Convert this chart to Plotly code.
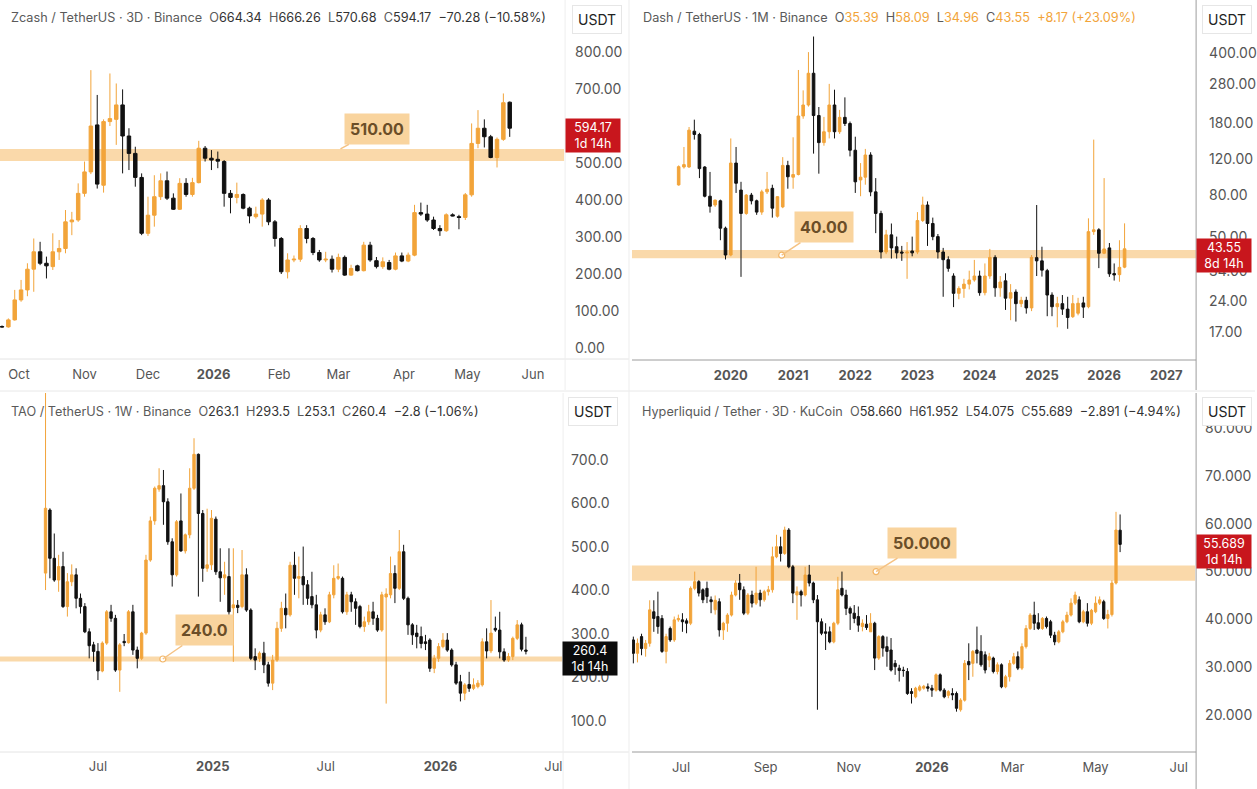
import math
import pandas as pd
import plotly.graph_objects as go

W, H = 1257, 789
UP = "#F2A43A"
DOWN = "#111111"
TICK = "#555555"
BAND = "#FAD9AA"
LABEL_BG = "#F9D49E"
LABEL_FG = "#6B4E28"
FONT = "Inter, Roboto, sans-serif"

# ---------------- Zcash / TetherUS 3D ----------------
zec_start = "2025-09-23"
zec_o = [58,57,76,130,157,213,260,229,220,260,269,341,346,418,476,603,440,612,618,657,
         573,526,461,310,359,409,452,405,375,445,415,447,540,513,510,504,418,407,415,378,
         355,362,400,341,296,206,238,240,323,296,258,238,240,213,245,197,222,209,278,236,
         220,231,213,249,235,251,366,362,346,323,317,360,355,353,414,553,594,571,515,564,664.34]
zec_h = [61,80,157,184,229,296,287,247,310,292,373,368,445,504,751,684,618,742,715,699,
         594,544,472,409,467,472,477,418,459,459,460,560,546,535,531,508,427,447,418,382,
         382,405,405,346,300,256,250,332,332,300,265,260,250,255,250,225,225,287,287,246,
         245,238,258,258,258,387,393,387,355,332,364,364,360,419,607,643,618,576,569,688,666.26]
zec_l = [55,55,74,125,140,152,224,188,211,238,256,305,341,409,470,431,420,600,549,472,
         481,436,305,303,328,400,400,373,373,409,409,445,504,481,486,382,364,391,375,337,
         350,328,332,274,200,188,232,233,283,251,233,232,204,205,195,195,207,207,233,215,
         214,210,210,232,232,248,357,341,319,303,314,356,321,346,409,540,542,513,488,560,570.68]
zec_c = [57,76,130,157,213,260,229,222,260,269,341,346,418,476,600,443,612,620,657,573,
         526,461,310,359,409,452,405,375,445,415,447,540,513,508,505,418,407,415,378,357,
         362,400,341,296,206,238,240,323,296,258,238,240,213,245,197,215,209,278,238,220,
         233,213,249,235,251,366,362,346,323,317,360,357,353,414,553,594,571,515,564,663,594.17]

# ---------------- Dash / TetherUS 1M ----------------
dash_start = "2019-03-01"
dash_o = [89.8,110,110,165,159,110,79,71.5,75,55,40.6,115,84.7,65,80,75,66,83,86.4,63,
          70,112,98,101,196,222,318,197,145,164,222,164,193,180,133,95,98,126,83,65,
          42,51,44.6,42,41.5,42.5,42,60,71.5,58,50,42,38.5,32,26.3,27.8,29.2,30.6,32,26.5,
          32,39.5,28,30.3,24.9,26.7,23.4,24.3,22.3,39.4,38,34,25.8,22.6,23.4,22,20.2,21,23.6,22.6,
          52.9,54,41.4,44,32.9,32.5,35.39]
dash_h = [112,138,173,188,162,111,104,76,76,56,152,138,93,81,82,76,85,104,90,79,
          123,118,154,330,262,404,482,217,194,282,264,210,242,184,155,115,135,130,97,67,
          54,58,50,45,47,50,66,78.6,74.5,62,51.5,44,40,33,28.5,31,34,38.4,34,36.9,
          43.5,40.5,32,33,29.2,27.5,25.3,25.3,40.6,71.5,44.6,34.7,26.6,25.3,25.8,25.3,25.8,25,25.3,61.5,
          150,55,97,46.5,36.9,48,58.09]
dash_l = [89,108,109,150,97,78,65.6,70,48,38.6,40,82,31.7,64,72,64,64,81,62,62,
          69,86,86,100,190,218,128,102,140,152,152,160,175,124,82,79,90,79,52,39,
          41,39,39,38,31,40,41,59,45,48,39,25.3,33.6,22.5,24.6,25,27.5,30,25.6,25.7,
          31,25.3,25.3,21.8,19.4,19.1,22.5,20.9,21.5,32,31.8,20.3,20.3,17.9,20.6,17.6,19.9,20.5,19.9,22.2,
          51,35,41,31.7,30.4,30,34.96]
dash_c = [110.4,113,167,159,108,79,70.5,75.6,55,40.6,115,91.5,65,80,75,66,83,85.5,69,78.6,
          112,98.5,101,196,222,318,197,145,164,222,164,193,180,133,93,98,126,83,65,42,
          51,44,41.6,41.5,42,41.6,60,71.5,58,50,42,38.5,34.9,26.3,27.8,29.2,30.6,32,26.5,32,
          39.5,28,29.9,24.9,26.5,23.4,24.3,22.3,39.5,38,34.2,25.8,22.6,23.4,22,20,23.4,23.5,22.5,52.9,
          54,41.4,43.5,32.8,32.4,35.3,43.55]

# ---------------- TAO / TetherUS 1W ----------------
tao_start = "2024-04-08"
tao_o = [440,585,474,424,455,363,420,436,382,363, 305,275,260,215,279,351,336,217,283,280,
         351,263,244,302,470,560,633,641,604,512, 436,560,491,528,635,713,577,451,459,564,
         443,429,432,360,366,363,436,355,248,244, 256,229,187,240,313,359,344,458,428,432,
         413,386,367,309,344,328,390,428,428,351, 390,374,363,317,328,351,336,309,385,390,
         439,405,489,382,321,302,294,282,286,221, 244,271,286,263,229,190,164,184,175,179,
         183,282,261,313,309,259,240,248,290,321, 263.1]
tao_h = [1000,589,531,482,489,440,460,451,393,371, 313,282,279,283,355,367,344,279,300,355,
         367,271,305,482,570,639,681,677,612,520, 562,623,531,681,750,715,585,588,585,570,
         497,466,497,497,378,493,451,359,267,260, 282,236,252,328,374,393,466,489,478,501,
         424,443,390,351,359,397,458,462,432,397, 397,382,367,340,367,374,344,397,405,478,
         458,539,505,386,325,321,317,298,290,252, 279,302,302,267,236,206,187,213,198,194,
         290,313,378,340,351,267,256,294,332,326, 293.5]
tao_l = [401,428,420,397,360,340,410,359,347,302, 244,236,194,212,275,328,213,167,272,278,
         252,221,240,298,466,551,627,551,505,409, 432,489,485,520,631,386,420,443,447,436,
         374,390,344,236,348,359,351,240,217,236, 210,179,171,236,305,313,340,390,382,367,
         367,359,290,304,321,325,382,424,347,344, 351,321,313,305,321,321,305,305,140,382,
         371,401,378,298,275,267,267,263,213,210, 236,267,259,225,183,145,148,167,171,175,
         179,244,256,305,244,236,236,240,286,260, 253.1]
tao_c = [589,474,424,455,363,420,436,382,363,305, 273,260,215,279,351,336,217,275,280,351,
         263,244,302,470,560,635,641,604,512,436, 558,491,528,635,713,577,451,459,566,443,
         429,436,351,367,361,436,355,244,240,256, 229,187,240,313,359,344,458,428,432,413,
         382,367,309,344,328,390,428,432,351,390, 374,359,317,328,351,336,309,390,392,439,
         405,489,382,321,298,294,278,278,221,244, 271,286,263,229,187,164,183,175,183,187,
         282,261,302,309,259,240,248,290,321,265, 260.4]

# ---------------- Hyperliquid / Tether 3D ----------------
hl_start = "2025-05-27"
hl_o = [35.7,32.9,36.4,33.9,35.0,41.6,40.6,40.2,33.3,38.1, 35.7,39.9,39.9,39.7,39.2,46.5,47.9,46.2,46.5,44.1,
        42.0,43.7,37.8,39.2,40.9,45.1,47.6,46.2,41.3,45.1, 43.4,45.5,44.1,45.8,46.2,53.1,55.2,53.8,58.7,51.0,
        45.1,45.8,45.1,49.3,47.6,44.1,39.5,37.4,37.4,35.3, 39.2,46.5,45.1,42.3,41.3,40.6,38.5,39.0,37.4,39.2,
        31.9,36.4,34.3,33.6,30.8,29.8,29.4,29.1,24.9,23.8, 25.2,25.6,25.9,25.6,25.2,28.4,25.2,24.1,24.5,24.5,
        21.1,23.1,31.2,30.8,33.6,33.3,32.6,31.5,31.9,29.1, 30.5,25.9,28.0,30.8,32.2,29.8,34.3,38.1,40.9,39.3,
        38.1,40.2,39.5,36.7,35.3,37.4,39.5,40.9,43.4,44.1, 39.5,41.6,39.2,41.6,43.4,43.7,40.2,41.0,47.6,58.66]
hl_h = [36.4,36.0,37.0,35.7,44.0,44.0,45.8,40.9,37.0,38.5, 40.6,41.0,41.3,40.2,46.9,50.0,48.2,46.5,47.9,44.8,
        45.0,44.4,39.5,41.3,45.8,48.2,49.5,46.9,45.5,46.0, 51.0,46.2,46.2,47.0,55.2,57.7,57.3,59.4,59.1,51.4,
        46.9,46.2,51.0,51.4,47.9,45.1,40.2,39.2,38.5,39.5, 48.9,50.0,46.2,42.7,43.0,42.7,40.0,40.9,41.3,39.5,
        36.7,36.7,36.4,36.1,31.5,30.5,30.1,29.8,25.6,25.9, 26.3,26.3,26.6,26.3,28.7,28.7,25.6,25.2,25.6,24.9,
        23.5,31.5,35.0,33.6,38.5,36.7,33.3,33.0,32.2,31.0, 30.8,28.4,31.5,33.0,33.3,35.0,38.8,41.3,43.7,41.3,
        40.5,40.6,39.9,37.4,37.8,39.9,41.6,44.4,45.8,44.8, 42.0,43.4,42.2,44.8,44.8,44.1,42.0,48.2,62.5,61.952]
hl_l = [30.8,31.0,32.5,32.2,34.3,37.4,37.0,33.0,30.8,35.3, 35.3,39.5,37.4,37.1,38.8,46.1,44.8,43.4,43.4,41.3,
        41.0,36.4,35.7,37.4,40.6,44.8,44.1,40.9,40.9,42.5, 43.0,42.7,43.7,45.0,45.6,52.8,52.1,53.5,50.7,43.4,
        39.9,42.7,44.8,46.9,43.4,21.1,36.7,33.6,35.0,35.0, 38.8,44.8,40.9,37.8,39.2,37.4,37.5,37.8,37.4,29.4,
        31.5,32.2,30.1,29.1,28.4,27.0,28.0,24.2,22.4,23.5, 24.9,25.3,24.9,23.8,24.9,24.9,23.5,23.5,23.1,20.7,
        20.7,22.8,27.3,28.0,30.8,30.1,28.7,30.0,28.7,28.5, 25.6,25.6,27.0,30.5,29.4,29.4,33.9,37.8,37.8,37.8,
        37.8,38.1,36.1,34.6,35.0,37.1,39.2,40.6,43.0,39.2, 39.2,38.5,38.8,41.3,43.0,39.9,38.1,40.6,47.3,54.075]
hl_c = [32.9,35.0,33.9,35.0,42.0,40.2,38.5,33.3,36.4,35.7, 39.9,40.2,39.5,39.2,46.5,47.9,45.5,44.1,44.8,43.7,
        44.0,37.8,39.2,40.9,45.1,47.6,46.2,41.3,45.1,43.4, 45.5,44.1,45.8,46.2,53.1,55.2,53.8,58.7,51.0,45.5,
        45.8,45.1,49.3,47.6,44.1,39.5,37.1,37.1,35.3,39.2, 46.2,45.1,42.3,41.3,40.2,38.8,39.2,38.3,39.2,31.9,
        36.4,34.0,33.3,29.4,30.1,29.3,29.3,24.5,24.5,25.6, 25.9,26.0,25.6,25.2,28.4,25.2,23.8,24.9,24.2,21.4,
        23.1,30.8,30.5,33.3,32.9,30.5,29.4,32.2,29.1,30.5, 25.9,28.0,30.8,32.2,29.8,34.3,38.1,40.9,39.2,38.1,
        40.2,38.5,36.7,35.3,37.4,39.5,40.9,43.4,45.1,39.5, 41.6,39.2,41.9,43.4,44.1,40.2,41.0,47.6,58.7,55.689]

# tick labels
zec_ticks = ["2025-10-01","2025-11-01","2025-12-01","2026-01-01","2026-02-01","2026-03-01","2026-04-01","2026-05-01","2026-06-01"]
zec_tick_text = ["Oct","Nov","Dec","<b>2026</b>","Feb","Mar","Apr","May","Jun"]
dash_ticks = ["2020-01-01","2021-01-01","2022-01-01","2023-01-01","2024-01-01","2025-01-01","2026-01-01","2027-01-01"]
dash_tick_text = ["<b>2020</b>","<b>2021</b>","<b>2022</b>","<b>2023</b>","<b>2024</b>","<b>2025</b>","<b>2026</b>","<b>2027</b>"]
tao_ticks = ["2024-07-01","2025-01-01","2025-07-01","2026-01-01","2026-07-01"]
tao_tick_text = ["Jul","<b>2025</b>","Jul","<b>2026</b>","Jul"]
hl_ticks = ["2025-07-01","2025-09-01","2025-11-01","2026-01-01","2026-03-01","2026-05-01","2026-07-01"]
hl_tick_text = ["Jul","Sep","Nov","<b>2026</b>","Mar","May","Jul"]

zec_yticks = [0,100,200,300,400,500,700,800]   # 600 sits under the last-price tag
dash_yticks = [17,24,34,50,80,120,180,280,400]
tao_yticks = [100,200,300,400,500,600,700]
hl_yticks = [20,30,40,50,60,70,80]

# ---------------- figure ----------------
fig = go.Figure()

def candles(start, freq, o, h, l, c, xa, ya):
    x = pd.date_range(start, periods=len(o), freq=freq)
    fig.add_trace(go.Candlestick(
        x=x, open=o, high=h, low=l, close=c, xaxis=xa, yaxis=ya,
        increasing=dict(line=dict(color=UP, width=1), fillcolor=UP),
        decreasing=dict(line=dict(color=DOWN, width=1), fillcolor=DOWN),
        whiskerwidth=0, hoverinfo="skip", showlegend=False))

candles(zec_start, "3D", zec_o, zec_h, zec_l, zec_c, "x", "y")
candles(dash_start, "MS", dash_o, dash_h, dash_l, dash_c, "x2", "y2")
candles(tao_start, "7D", tao_o, tao_h, tao_l, tao_c, "x3", "y3")
candles(hl_start, "3D", hl_o, hl_h, hl_l, hl_c, "x4", "y4")

def px(v):
    return v / W

def py(v):
    return 1 - v / H

def xaxis(dom, rng, tv, tt, anchor):
    return dict(domain=dom, range=rng, type="date", anchor=anchor, tickvals=tv, ticktext=tt,
                showgrid=False, zeroline=False, showline=False, ticks="",
                tickfont=dict(size=13, color=TICK, family=FONT), ticklabelstandoff=6,
                rangeslider=dict(visible=False), fixedrange=True)

def yaxis(dom, rng, tv, tt, anchor, typ="linear", standoff=8):
    return dict(domain=dom, range=rng, type=typ, anchor=anchor, side="right", tickvals=tv, ticktext=tt,
                showgrid=False, zeroline=False, showline=False, ticks="",
                tickfont=dict(size=14, color=TICK, family=FONT), ticklabelstandoff=standoff,
                fixedrange=True)

fig.update_layout(
    width=W, height=H, autosize=False,
    margin=dict(l=0, r=0, t=0, b=0, pad=0),
    paper_bgcolor="white", plot_bgcolor="white",
    font=dict(family=FONT),
    showlegend=False,
    boxgap=0.22,
    xaxis=xaxis([0, px(565)], ["2025-09-22T01:00", "2026-06-15T17:00"], zec_ticks, zec_tick_text, "y"),
    yaxis=yaxis([py(359), 1], [-29.7, 940.6], zec_yticks, [f"{v:.2f}" for v in zec_yticks], "x", standoff=10),
    xaxis2=xaxis([px(633), px(1198)], ["2018-05-31", "2027-06-25"], dash_ticks, dash_tick_text, "y2"),
    yaxis2=yaxis([py(360), 1], [1.09212, 2.86274], dash_yticks, [f"{v:.2f}" for v in dash_yticks], "x2", typ="log", standoff=12),
    xaxis3=xaxis([0, px(563)], ["2024-01-26", "2026-07-15"], tao_ticks, tao_tick_text, "y3"),
    yaxis3=yaxis([py(751), py(393)], [31.0, 854.0], tao_yticks, [f"{v:.1f}" for v in tao_yticks], "x3", standoff=8),
    xaxis4=xaxis([px(633), px(1197)], ["2025-05-26", "2026-07-13"], hl_ticks, hl_tick_text, "y4"),
    yaxis4=yaxis([py(752), py(393)], [12.26, 87.36], hl_yticks, [f"{v:.3f}" for v in hl_yticks], "x4", standoff=9),
)

shapes = []
# support / resistance bands (data values, also on the log axis)
for xr, yr, y0, y1 in [("x domain", "y", 505.5, 538.0),
                       ("x2 domain", "y2", 39.1, 43.0),
                       ("x3 domain", "y3", 236.5, 248.0),
                       ("x4 domain", "y4", 48.1, 51.25)]:
    shapes.append(dict(type="rect", xref=xr, yref=yr, x0=0, x1=1, y0=y0, y1=y1,
                       fillcolor=BAND, line=dict(width=0), layer="below"))

def pline(x0, y0, x1, y1, color):
    return dict(type="line", xref="paper", yref="paper", x0=px(x0), x1=px(x1), y0=py(y0), y1=py(y1),
                line=dict(color=color, width=1), layer="above")

LIGHT = "#E4E4E4"
DARK = "#9C9C9C"
shapes += [
    pline(0, 359, 630, 359, LIGHT), pline(566, 0, 566, 390, "#EEEEEE"),
    pline(633, 360, 1198, 360, DARK), pline(1198, 0, 1198, 390, DARK),
    pline(0, 752, 630, 752, LIGHT), pline(564, 393, 564, 789, "#EEEEEE"),
    pline(633, 752, 1198, 752, DARK), pline(1198, 393, 1198, 789, DARK),
    pline(0, 391, W, 391, "#E8E8E8"), pline(630, 0, 630, H, "#EDEDED"),
]
fig.update_layout(shapes=shapes)

ann = []
NB = "\u00a0"
def header(x, y, name, vals, vcol):
    lab = "#5A5A5A"
    t = f"<span style='color:{lab}'>{name}</span>"
    for k, v in vals:
        t += NB * 2 + f"<span style='color:{lab}'>{k}</span><span style='color:{vcol}'>{v}</span>"
    ann.append(dict(xref="paper", yref="paper", x=px(x), y=py(y), xanchor="left", yanchor="middle",
                    text=t, showarrow=False, font=dict(size=12.7, family=FONT)))

header(9, 18, "Zcash / TetherUS · 3D · Binance",
       [("O", "664.34"), ("H", "666.26"), ("L", "570.68"), ("C", "594.17"), ("", "−70.28 (−10.58%)")], "#333333")
header(642, 18, "Dash / TetherUS · 1M · Binance",
       [("O", "35.39"), ("H", "58.09"), ("L", "34.96"), ("C", "43.55"), ("", "+8.17 (+23.09%)")], UP)
header(9, 411, "TAO / TetherUS · 1W · Binance",
       [("O", "263.1"), ("H", "293.5"), ("L", "253.1"), ("C", "260.4"), ("", "−2.8 (−1.06%)")], "#333333")
header(641, 411, "Hyperliquid / Tether · 3D · KuCoin",
       [("O", "58.660"), ("H", "61.952"), ("L", "54.075"), ("C", "55.689"), ("", "−2.891 (−4.94%)")], "#333333")

for cx, cy in [(598, 19), (1229, 19), (594, 411), (1229, 412)]:
    ann.append(dict(xref="paper", yref="paper", x=px(cx), y=py(cy), xanchor="center", yanchor="middle",
                    text="USDT", showarrow=False, font=dict(size=14, color="#222222", family=FONT),
                    bgcolor="white", bordercolor="#E6E6E6", borderwidth=1, borderpad=5))

# last-price tags
for xl, yref, yv, txt, col in [(566, "y", zec_c[-1], "594.17<br>1d 14h", "#C8161D"),
                               (1198, "y2", math.log10(dash_c[-1]), "43.55<br>8d 14h", "#C8161D"),
                               (563, "y3", tao_c[-1], "260.4<br>1d 14h", "#0B0B0B"),
                               (1198, "y4", hl_c[-1], "55.689<br>1d 14h", "#C8161D")]:
    ann.append(dict(xref="paper", yref=yref, x=px(xl), y=yv, xanchor="left", yanchor="middle", yshift=-7,
                    text=txt, showarrow=False, align="center", width=52,
                    font=dict(size=12.5, color="white", family=FONT), bgcolor=col, borderpad=1))

# level labels with pointers
for xr, yr, xv, yv, axp, ayp, txt in [("x", "y", "2026-03-02", 538.0, 37, -20, "510.00"),
                                      ("x2", "y2", "2020-10-26", math.log10(40.5), 42, -28, "40.00"),
                                      ("x3", "y3", "2024-10-13", 242.5, 42, -29, "240.0"),
                                      ("x4", "y4", "2025-11-21", 50.0, 46, -29, "50.000")]:
    ann.append(dict(xref=xr, yref=yr, x=xv, y=yv, ax=axp, ay=ayp, text=f"<b>{txt}</b>",
                    showarrow=True, arrowhead=0, arrowwidth=1.5, arrowcolor="#F5C283",
                    font=dict(size=16, color=LABEL_FG, family=FONT), bgcolor=LABEL_BG,
                    borderpad=5))
fig.update_layout(annotations=ann)

# small anchor circles on the levels
for xa, ya, xv, yv in [("x2", "y2", "2020-10-26", 40.5), ("x3", "y3", "2024-10-13", 242.5),
                       ("x4", "y4", "2025-11-21", 50.0)]:
    fig.add_trace(go.Scatter(x=[xv], y=[yv], xaxis=xa, yaxis=ya, mode="markers",
                             marker=dict(size=6, color="white", line=dict(color="#F2B566", width=1.2)),
                             hoverinfo="skip", showlegend=False))

fig.write_html("out.html")
